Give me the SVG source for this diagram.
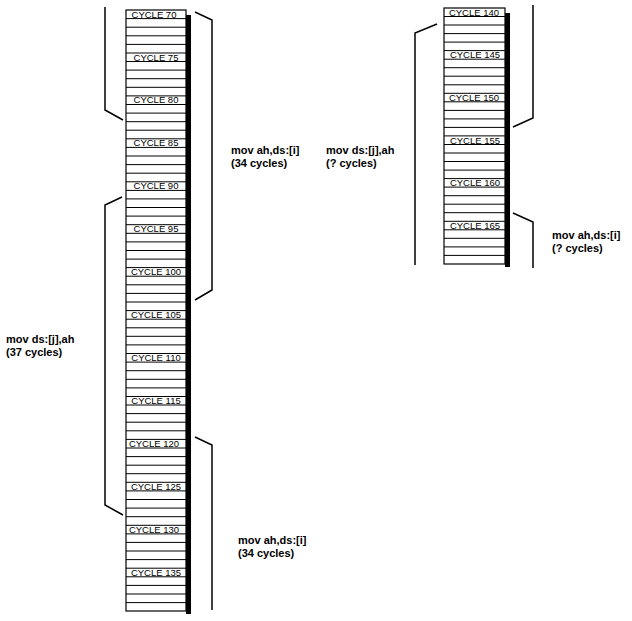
<svg xmlns="http://www.w3.org/2000/svg" width="632" height="621" viewBox="0 0 632 621">
<style>
.col{fill:#fff;stroke:#000;stroke-width:1.2}
.sh{fill:#000}
.r{stroke:#000;stroke-width:1}
.cl{font-family:"Liberation Sans",Arial,sans-serif;font-size:9.5px;text-anchor:middle}
.lb{font-family:"Liberation Sans",Arial,sans-serif;font-size:11px;font-weight:bold}
.br{fill:none;stroke:#000;stroke-width:1.5}
</style>
<rect width="632" height="621" fill="#fff"/>
<g id="column-left">
<rect class="sh" x="186" y="15" width="5" height="599"/>
<rect class="col" x="126" y="10" width="60" height="601"/>
</g>
<g id="column-right">
<rect class="sh" x="505" y="13" width="5" height="254"/>
<rect class="col" x="444" y="8" width="61" height="256"/>
</g>
<g id="connectors">
<path class="br" d="M105,7 V110 L123,120"/>
<path class="br" d="M122,197 L105,205 V505 L123,515"/>
<path class="br" d="M195,12 L212,20 V290 L195,300"/>
<path class="br" d="M195,437 L212,445 V610"/>
<path class="br" d="M437,24 L415,33 V265"/>
<path class="br" d="M533,5 V118 L513,127"/>
<path class="br" d="M513,213 L533,222 V268"/>
</g>
<g id="labels">
<text class="lb" x="231" y="154">mov ah,ds:[i]</text>
<text class="lb" x="231" y="167">(34 cycles)</text>
<text class="lb" x="326" y="154">mov ds:[j],ah</text>
<text class="lb" x="326" y="167">(? cycles)</text>
<text class="lb" x="6" y="343">mov ds:[j],ah</text>
<text class="lb" x="6" y="356">(37 cycles)</text>
<text class="lb" x="238" y="544">mov ah,ds:[i]</text>
<text class="lb" x="238" y="557">(34 cycles)</text>
<text class="lb" x="552" y="239">mov ah,ds:[i]</text>
<text class="lb" x="552" y="252">(? cycles)</text>
</g>
<g id="lines" class="r">
<path d="M126,18.6H186M126,27.2H186M126,35.8H186M126,44.4H186M126,53H186M126,61.5H186M126,70.1H186M126,78.7H186M126,87.3H186M126,95.9H186M126,104.5H186M126,113.1H186M126,121.7H186M126,130.2H186M126,138.8H186M126,147.4H186M126,156H186M126,164.6H186M126,173.2H186M126,181.8H186M126,190.4H186M126,198.9H186M126,207.5H186M126,216.1H186M126,224.7H186M126,233.3H186M126,241.9H186M126,250.5H186M126,259.1H186M126,267.6H186M126,276.2H186M126,284.8H186M126,293.4H186M126,302H186M126,310.6H186M126,319.2H186M126,327.8H186M126,336.3H186M126,344.9H186M126,353.5H186M126,362.1H186M126,370.7H186M126,379.3H186M126,387.9H186M126,396.5H186M126,405H186M126,413.6H186M126,422.2H186M126,430.8H186M126,439.4H186M126,448H186M126,456.6H186M126,465.2H186M126,473.7H186M126,482.3H186M126,490.9H186M126,499.5H186M126,508.1H186M126,516.7H186M126,525.3H186M126,533.9H186M126,542.4H186M126,551H186M126,559.6H186M126,568.2H186M126,576.8H186M126,585.4H186M126,594H186M126,602.6H186"/>
<path d="M444,16.5H505M444,25H505M444,33.6H505M444,42.1H505M444,50.6H505M444,59.2H505M444,67.7H505M444,76.2H505M444,84.8H505M444,93.3H505M444,101.8H505M444,110.4H505M444,118.9H505M444,127.4H505M444,135.9H505M444,144.5H505M444,153H505M444,161.5H505M444,170.1H505M444,178.6H505M444,187.1H505M444,195.7H505M444,204.2H505M444,212.7H505M444,221.3H505M444,229.8H505M444,238.3H505M444,246.9H505M444,255.4H505"/>
</g>
<g id="cycle-labels">
<text class="cl" x="154" y="17.6">CYCLE 70</text>
<text class="cl" x="156" y="60.5">CYCLE 75</text>
<text class="cl" x="156" y="103.4">CYCLE 80</text>
<text class="cl" x="156" y="146.4">CYCLE 85</text>
<text class="cl" x="156" y="189.3">CYCLE 90</text>
<text class="cl" x="156" y="232.2">CYCLE 95</text>
<text class="cl" x="156" y="275.1">CYCLE 100</text>
<text class="cl" x="156" y="318">CYCLE 105</text>
<text class="cl" x="156" y="360.9">CYCLE 110</text>
<text class="cl" x="156" y="403.9">CYCLE 115</text>
<text class="cl" x="154" y="446.8">CYCLE 120</text>
<text class="cl" x="156" y="489.7">CYCLE 125</text>
<text class="cl" x="154" y="532.6">CYCLE 130</text>
<text class="cl" x="156" y="575.5">CYCLE 135</text>
<text class="cl" x="474" y="15.5">CYCLE 140</text>
<text class="cl" x="475" y="58.2">CYCLE 145</text>
<text class="cl" x="474" y="100.8">CYCLE 150</text>
<text class="cl" x="475" y="143.5">CYCLE 155</text>
<text class="cl" x="475" y="186.1">CYCLE 160</text>
<text class="cl" x="475" y="228.8">CYCLE 165</text>
</g>
</svg>
